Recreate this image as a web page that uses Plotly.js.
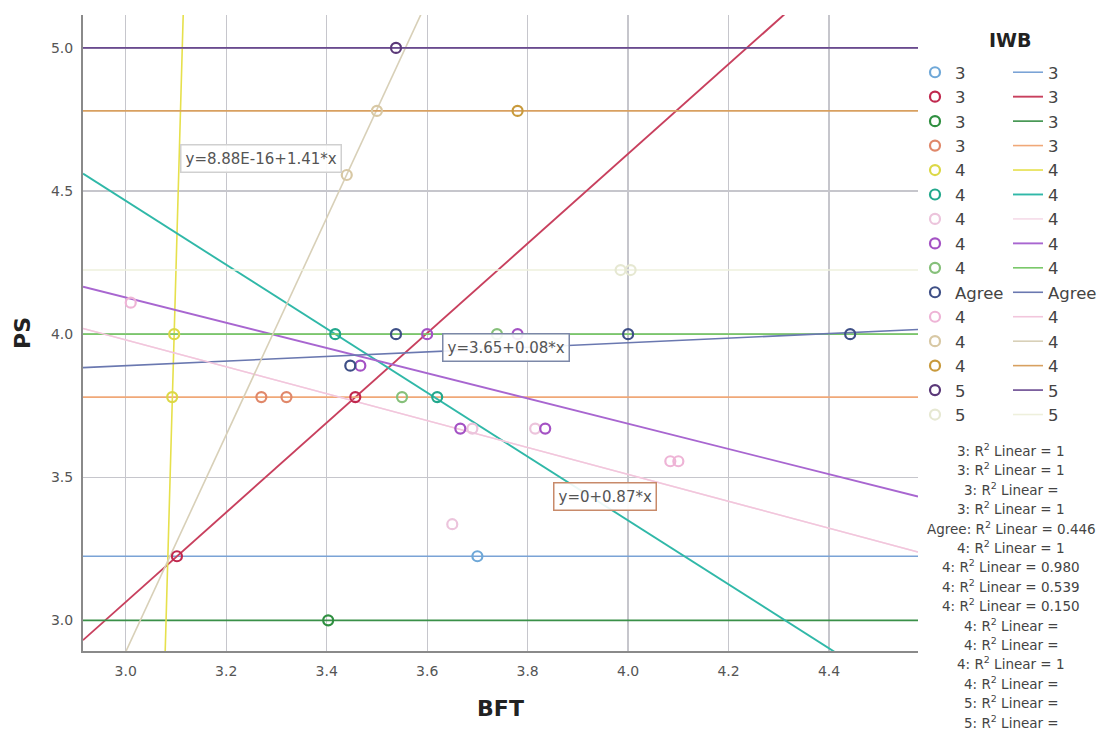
<!DOCTYPE html>
<html>
<head>
<meta charset="utf-8">
<script src="https://cdn.plot.ly/plotly-3.0.1.min.js"></script>
<style>
  html, body { margin: 0; padding: 0; background: #ffffff; }
  #chart { width: 1104px; height: 733px; }
</style>
</head>
<body>
<div id="chart"></div>
<script>
// ---------------- data ----------------
const groupLabels = ['3', '3', '3', '3', '4', '4', '4', '4', '4', 'Agree', '4', '4', '4', '5', '5'];

// BFT (x) and PS (y) observations for each IWB group
const bftByGroup = [
  [3.70],
  [3.102, 3.457],
  [3.403],
  [3.27, 3.32],
  [3.0965, 3.0925],
  [3.417, 3.62],
  [3.69, 3.815, 3.65],
  [3.60, 3.78, 3.467, 3.666, 3.835],
  [3.739, 3.55],
  [3.538, 4.0, 4.442, 3.447],
  [4.084, 4.10, 3.01],
  [3.44, 3.50],
  [3.78],
  [3.538],
  [3.985, 4.005]
];
const psByGroup = [
  [3.224],
  [3.224, 3.78],
  [3.0],
  [3.78, 3.78],
  [4.0, 3.78],
  [4.0, 3.78],
  [3.67, 3.67, 3.336],
  [4.0, 4.0, 3.89, 3.67, 3.67],
  [4.0, 3.78],
  [4.0, 4.0, 4.0, 3.89],
  [3.556, 3.556, 4.11],
  [4.556, 4.78],
  [4.78],
  [5.0],
  [4.224, 4.224]
];

// linear fit lines (PS = intercept + slope * BFT) per group
const fitIntercept = [3.224, -1.634, 3.0, 3.78, -187.98, 7.817, 5.39, 5.451, 4.0, 3.65, 5.39, -8.48, 4.78, 5.0, 4.224];
const fitSlope     = [0, 1.566, 0, 0, 62.0, -1.117, -0.47, -0.441, 0, 0.08, -0.47, 3.79, 0, 0, 0];

// R² legend block
const r2Groups = ['3', '3', '3', '3', 'Agree', '4', '4', '4', '4', '4', '4', '4', '4', '5', '5'];
const r2Values = ['1', '1', '', '1', '0.446', '1', '0.980', '0.539', '0.150', '', '', '1', '', '', ''];

// equation labels
const eqTexts = ['y=8.88E-16+1.41*x', 'y=3.65+0.08*x', 'y=0+0.87*x'];

// axes
const xTickVals = [3.0, 3.2, 3.4, 3.6, 3.8, 4.0, 4.2, 4.4];
const yTickVals = [3.0, 3.5, 4.0, 4.5, 5.0];
const xRange = [2.915, 4.577];
const yRange = [2.893, 5.115];

// ---------------- styles ----------------
const markerColors = ['#6fa8d8', '#c0284e', '#2f8f40', '#e0886a', '#dcd846', '#22a88c', '#ecc4dc', '#a452c4',
                      '#86c07a', '#3e4f86', '#eeb4d6', '#d8c8a4', '#c89a3c', '#5a3878', '#e6e8d2'];
const lineColors   = ['#7aa3d6', '#c8405e', '#3a9048', '#f0a878', '#e6e04c', '#30b8a8', '#f5dbe8', '#a866d0',
                      '#7ac86a', '#6a78b0', '#f2c6dc', '#d8d0b8', '#d8a060', '#6a4a90', '#eef0dc'];
const FONT = 'DejaVu Sans, Liberation Sans, Arial, sans-serif';

// ---------------- geometry helpers (plot area in px) ----------------
const W = 1104, H = 733;
const plotL = 83, plotR = 918, plotT = 15, plotB = 651;
const pxX = px => (px - plotL) / (plotR - plotL);
const pxY = py => (plotB - py) / (plotB - plotT);

// ---------------- traces ----------------
const traces = [];
groupLabels.forEach((g, i) => {
  const xs = [xRange[0], xRange[1]];
  traces.push({
    type: 'scatter', mode: 'lines',
    x: xs, y: xs.map(x => fitIntercept[i] + fitSlope[i] * x),
    name: g, legend: 'legend2',
    line: { color: lineColors[i], width: (i === 5 || i === 1 || i === 7) ? 1.9 : 1.6 },
    hoverinfo: 'skip'
  });
});
groupLabels.forEach((g, i) => {
  traces.push({
    type: 'scatter', mode: 'markers',
    x: bftByGroup[i], y: psByGroup[i],
    name: g, legend: 'legend',
    marker: { symbol: 'circle-open', size: 10, color: markerColors[i], line: { width: 2.2 } }
  });
});

// ---------------- annotations ----------------
const annotations = [];
annotations.push({
  xref: 'paper', yref: 'paper', x: pxX(1010), y: pxY(40), xanchor: 'center', yanchor: 'middle',
  text: '<b>IWB</b>', showarrow: false, font: { family: FONT, size: 19, color: '#222' }
});
r2Groups.forEach((g, i) => {
  const v = r2Values[i];
  annotations.push({
    xref: 'paper', yref: 'paper', x: pxX(1011), y: pxY(450 + i * 19.4), xanchor: 'center', yanchor: 'middle',
    text: g + ': R<sup>2</sup> Linear =' + (v ? ' ' + v : ''), showarrow: false,
    font: { family: FONT, size: 13.5, color: '#444' }
  });
});
const eqAnchors = [[3.108, 4.615], [3.630, 3.953], [3.851, 3.434]];
const eqBorders = ['#d0d0d0', '#7c88a8', '#c88a6a'];
eqTexts.forEach((t, i) => {
  annotations.push({
    xref: 'x', yref: 'y', x: eqAnchors[i][0], y: eqAnchors[i][1], xanchor: 'left', yanchor: 'middle',
    text: t, showarrow: false, bgcolor: 'rgba(255,255,255,0.9)', bordercolor: eqBorders[i],
    borderwidth: 1.5, borderpad: 4, font: { family: FONT, size: 15, color: '#555' }
  });
});

// ---------------- layout ----------------
const layout = {
  width: W, height: H,
  margin: { l: plotL, r: W - plotR, t: plotT, b: H - plotB, autoexpand: false },
  paper_bgcolor: '#ffffff', plot_bgcolor: '#ffffff',
  font: { family: FONT, color: '#444' },
  showlegend: true,
  xaxis: {
    range: xRange, tickvals: xTickVals, tickformat: '.1f',
    showgrid: true, gridcolor: '#c6c6cc', gridwidth: 1.3, zeroline: false,
    showline: true, linecolor: '#8a8a8a', linewidth: 2, ticks: '', ticklabelstandoff: 6,
    tickfont: { family: FONT, size: 14, color: '#555' },
    title: { text: '<b>BFT</b>', font: { family: FONT, size: 22, color: '#222' }, standoff: 23 }
  },
  yaxis: {
    range: yRange, tickvals: yTickVals, tickformat: '.1f',
    showgrid: true, gridcolor: '#c6c6cc', gridwidth: 1.3, zeroline: false,
    showline: true, linecolor: '#8a8a8a', linewidth: 2, ticks: '', ticklabelstandoff: 5,
    tickfont: { family: FONT, size: 14, color: '#555' },
    title: { text: '<b>PS</b>', font: { family: FONT, size: 22, color: '#222' }, standoff: 14 }
  },
  legend: {
    x: pxX(915), y: pxY(55), xanchor: 'left', yanchor: 'top',
    bgcolor: 'rgba(0,0,0,0)', borderwidth: 0, tracegroupgap: 0,
    font: { family: FONT, size: 16.5, color: '#444' }
  },
  legend2: {
    x: pxX(1008), y: pxY(55), xanchor: 'left', yanchor: 'top',
    bgcolor: 'rgba(0,0,0,0)', borderwidth: 0, tracegroupgap: 0,
    font: { family: FONT, size: 16.5, color: '#444' }
  },
  annotations: annotations
};

Plotly.newPlot('chart', traces, layout, { displayModeBar: false, staticPlot: true });
</script>
</body>
</html>
